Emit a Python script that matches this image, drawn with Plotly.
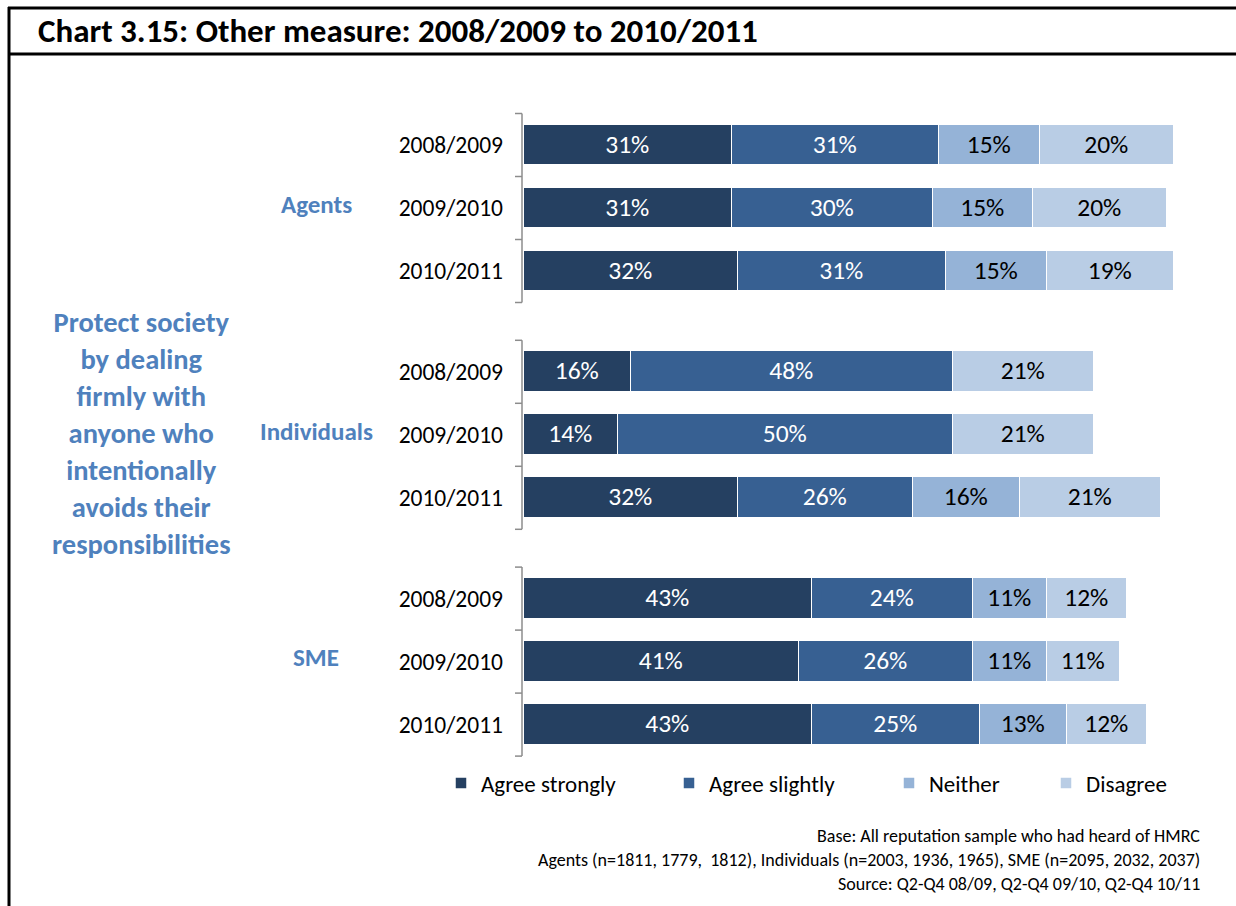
import plotly.graph_objects as go

# Survey results: share of respondents by answer, per group and year
groups = ["Agents", "Individuals", "SME"]
years = ["2008/2009", "2009/2010", "2010/2011"]
agree_strongly = [31, 31, 32, 16, 14, 32, 43, 41, 43]
agree_slightly = [31, 30, 31, 48, 50, 26, 24, 26, 25]
neither = [15, 15, 15, None, None, 16, 11, 11, 13]
disagree = [20, 20, 19, 21, 21, 21, 12, 11, 12]

series_names = ["Agree strongly", "Agree slightly", "Neither", "Disagree"]
series_values = [agree_strongly, agree_slightly, neither, disagree]
series_colors = ["#254061", "#376092", "#95B3D7", "#B9CDE5"]
label_colors = ["white", "white", "black", "black"]

W, H = 1236, 906
FONT = "Carlito, Lato, sans-serif"
GROUP_STEP = 3.6  # row units between group starts (3 rows + gap)

# numeric row positions (top to bottom)
positions = [g * GROUP_STEP + i for g in range(len(groups)) for i in range(len(years))]
ticktext = [y for _ in groups for y in years]

def px_x(p):
    return p / W

def px_y(p):
    return 1 - p / H

fig = go.Figure()
legend_ids = ["legend", "legend2", "legend3", "legend4"]
legend_left = [441, 669, 889, 1046]

for k, (name, vals, col, lc) in enumerate(zip(series_names, series_values, series_colors, label_colors)):
    fig.add_trace(go.Bar(
        name=name,
        y=positions,
        x=vals,
        orientation="h",
        width=0.65,
        marker=dict(color=col, line=dict(color="white", width=1.5)),
        text=[f"{v}%" if v is not None else "" for v in vals],
        textposition="inside",
        insidetextanchor="middle",
        textangle=0,
        constraintext="none",
        textfont=dict(family=FONT, size=25.5, color=lc),
        legend=legend_ids[k],
        hoverinfo="skip",
    ))

x0_px, x1_px = 524, 1194
top_px, bot_px = 100, 770
row_px = 63.0
first_center_px = 145.0
range_top = -(first_center_px - top_px) / row_px
range_bot = (bot_px - first_center_px) / row_px

layout_legends = {}
for k, lid in enumerate(legend_ids):
    layout_legends[lid] = dict(
        x=px_x(legend_left[k]), y=px_y(783), xanchor="left", yanchor="middle",
        orientation="h", font=dict(family=FONT, size=23, color="black"),
        bgcolor="rgba(0,0,0,0)", itemwidth=30, traceorder="normal",
    )

fig.update_layout(
    width=W, height=H,
    margin=dict(l=0, r=0, t=0, b=0),
    plot_bgcolor="white", paper_bgcolor="white",
    barmode="stack",
    bargap=0,
    showlegend=True,
    font=dict(family=FONT, color="black"),
    xaxis=dict(domain=[px_x(x0_px), px_x(x1_px)], range=[0, 100], visible=False,
               automargin=False, fixedrange=True),
    yaxis=dict(domain=[px_y(bot_px), px_y(top_px)], range=[range_bot, range_top],
               tickvals=positions, ticktext=ticktext, ticks="", showline=False,
               showgrid=False, zeroline=False, ticklabelstandoff=20,
               tickfont=dict(family=FONT, size=23.5, color="black"), automargin=False),
    **layout_legends,
)

# bracket-style axis line and separators for each group
axis_col = "#8C8C8C"
for g in range(len(groups)):
    top = g * GROUP_STEP - 0.5
    bot = g * GROUP_STEP + 2.5
    fig.add_shape(type="line", xref="paper", yref="y", x0=px_x(522), x1=px_x(522),
                  y0=top, y1=bot, line=dict(color=axis_col, width=1.5))
    for i in range(4):
        yy = g * GROUP_STEP + i - 0.5
        fig.add_shape(type="line", xref="paper", yref="y", x0=px_x(515), x1=px_x(522),
                      y0=yy, y1=yy, line=dict(color=axis_col, width=1.5))

# group labels
for g, name in enumerate(groups):
    fig.add_annotation(text=f"<b>{name}</b>", xref="paper", yref="y",
                       x=px_x(316), y=g * GROUP_STEP + 1 - 0.06, xanchor="center", yanchor="middle",
                       showarrow=False, font=dict(family=FONT, size=25, color="#4F81BD"))

# statement label
fig.add_annotation(
    text="<b>Protect society<br>by dealing<br>firmly with<br>anyone who<br>intentionally<br>avoids their<br>responsibilities</b>",
    xref="paper", yref="paper", x=px_x(141), y=px_y(433), xanchor="center", yanchor="middle",
    align="center", showarrow=False, font=dict(family=FONT, size=28.5, color="#4F81BD"),
)

# title
fig.add_annotation(text="<b>Chart 3.15: Other measure: 2008/2009 to 2010/2011</b>",
                   xref="paper", yref="paper", x=px_x(36), y=px_y(31), xanchor="left",
                   yanchor="middle", showarrow=False,
                   font=dict(family=FONT, size=33, color="black"))

# footnotes
notes = [
    "Base: All reputation sample who had heard of HMRC",
    "Agents (n=1811, 1779,  1812), Individuals (n=2003, 1936, 1965), SME (n=2095, 2032, 2037)",
    "Source: Q2-Q4 08/09, Q2-Q4 09/10, Q2-Q4 10/11",
]
for j, t in enumerate(notes):
    fig.add_annotation(text=t, xref="paper", yref="paper", x=px_x(1202), y=px_y(836 + 24 * j),
                       xanchor="right", yanchor="middle", showarrow=False,
                       font=dict(family=FONT, size=18, color="black"))

# frame around the chart and title strip
frame = dict(color="black", width=3)
fig.add_shape(type="line", xref="paper", yref="paper", x0=px_x(8), x1=1, y0=px_y(8), y1=px_y(8), line=frame)
fig.add_shape(type="line", xref="paper", yref="paper", x0=px_x(8), x1=1, y0=px_y(54), y1=px_y(54), line=frame)
fig.add_shape(type="line", xref="paper", yref="paper", x0=px_x(9), x1=px_x(9), y0=px_y(7), y1=0, line=frame)

fig.write_html("out.html")
